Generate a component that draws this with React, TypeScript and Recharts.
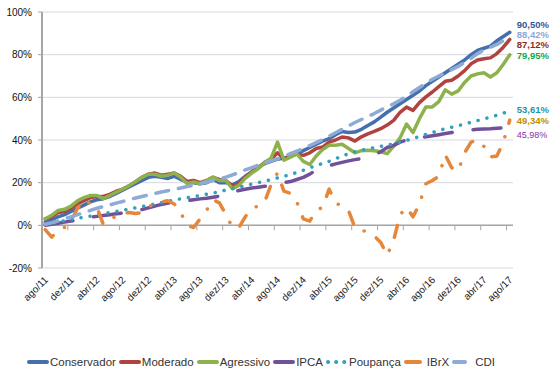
import { LineChart, Line, XAxis, YAxis, CartesianGrid, ReferenceLine } from "recharts";

const MESES = [
  "ago/11", "set/11", "out/11", "nov/11", "dez/11",
  "jan/12", "fev/12", "mar/12", "abr/12", "mai/12", "jun/12", "jul/12", "ago/12", "set/12", "out/12", "nov/12", "dez/12",
  "jan/13", "fev/13", "mar/13", "abr/13", "mai/13", "jun/13", "jul/13", "ago/13", "set/13", "out/13", "nov/13", "dez/13",
  "jan/14", "fev/14", "mar/14", "abr/14", "mai/14", "jun/14", "jul/14", "ago/14", "set/14", "out/14", "nov/14", "dez/14",
  "jan/15", "fev/15", "mar/15", "abr/15", "mai/15", "jun/15", "jul/15", "ago/15", "set/15", "out/15", "nov/15", "dez/15",
  "jan/16", "fev/16", "mar/16", "abr/16", "mai/16", "jun/16", "jul/16", "ago/16", "set/16", "out/16", "nov/16", "dez/16",
  "jan/17", "fev/17", "mar/17", "abr/17", "mai/17", "jun/17", "jul/17", "ago/17",
];

// rentabilidade acumulada (%) desde ago/11
const CONSERVADOR = [
  1.5, 2.5, 4, 5, 6.5, 8, 9.5, 11, 12, 12.5,
  13.5, 15, 16.5, 18, 19.5, 21, 22.5, 23, 22.5, 22,
  23, 21.5, 20.5, 20, 19.5, 20, 21.5, 20, 20, 19,
  20.5, 23, 25, 27, 29, 30, 31, 31.5, 32.5, 33.5,
  35, 36.5, 38, 39.5, 40.6, 42.5, 44, 43.5, 43.7, 45,
  46.8, 48.5, 50.7, 53, 55, 57, 59, 61, 63, 65.5,
  67.5, 69.5, 71.5, 73.5, 75.5, 77.5, 80, 82, 83, 84,
  86.5, 88.5, 90.5,
];
const MODERADO = [
  3, 4, 6, 6.5, 8, 10, 11.5, 13, 13.5, 13.5,
  14.5, 16, 17, 18.5, 20.5, 22.5, 24, 24.5, 23.5, 24,
  24.5, 23, 20.5, 21, 20, 21, 22.5, 21.5, 21, 18.5,
  19.5, 22.5, 25, 27, 29.5, 31, 34, 31, 32.5, 33.5,
  32.8, 34, 36, 36.7, 39, 40, 41.4, 41, 39.5, 41.5,
  42.9, 44, 45.3, 47, 49.2, 53, 55.4, 53.9, 57.5, 60.2,
  62.5, 65, 67.5, 68, 70, 72.5, 75.7, 77.5, 78.1, 78.5,
  80.5, 83.5, 87.12,
];
const AGRESSIVO = [
  3.1, 4.7, 7, 7.5, 9, 11.5, 13, 14, 14, 12.5,
  14, 15.5, 17, 18.5, 20.5, 22.5, 24, 24, 23, 23.5,
  24.5, 22.5, 19.5, 20.3, 19.5, 21, 22.6, 21, 21, 17.2,
  18.7, 22, 24.5, 26.5, 29.5, 31.5, 39, 30.5, 32, 33.5,
  30, 28.5, 32.5, 35.5, 37.5, 37.5, 38, 36, 34, 35,
  35.2, 35, 34.5, 33.6, 37, 41, 47.5, 43.5, 50, 55.5,
  55.5, 58, 63.5, 61.5, 63, 67, 70, 71, 71.5, 69.5,
  71.5, 75.5, 79.95,
];
const IPCA = [
  0, 0.5, 1, 1.5, 2, 2.6, 3.2, 3.8, 4.2, 4.6,
  5, 5.4, 5.8, 6.2, 6.8, 7.4, 8.2, 9, 9.8, 10.4,
  10.9, 11.3, 11.6, 12, 12.4, 12.7, 13.2, 13.7, 14.4, 15.5,
  16.3, 16.9, 17.5, 17.9, 18.3, 18.7, 19.2, 20, 20.5, 21.5,
  22.5, 24, 26, 27, 28, 28.8, 29.5, 30.2, 30.8, 31.3,
  32, 33, 34.5, 36.5, 37.5, 39, 40, 40.5, 41, 41.5,
  42, 42.5, 43, 43.5, 44, 44.5, 44.8, 45, 45.2, 45.3,
  45.5, 45.7, 45.98,
];
const POUPANCA = [
  0.5, 1, 1.5, 2.2, 2.8, 3.3, 3.8, 4.3, 4.8, 5.4,
  6, 6.5, 7, 7.6, 8.2, 8.8, 9.4, 10, 10.6, 11.2,
  11.9, 12.4, 12.9, 13.5, 14, 14.6, 15.1, 15.8, 16.5, 17.2,
  17.8, 18.6, 19.3, 20, 20.7, 21.4, 22.2, 23, 23.8, 24.8,
  25.8, 27, 28, 29, 30, 31.2, 32.4, 33.6, 34.5, 35.2,
  35.8, 36.4, 37, 37.6, 38.2, 39, 39.8, 40.7, 41.6, 42.6,
  43.5, 44.4, 45.3, 46, 46.7, 47.5, 48.3, 49.1, 49.9, 50.7,
  51.6, 52.6, 53.61,
];
const IBRX = [
  -2, -5.5, -2.5, -1, 2, 8, 12, 10, 8.5, 0.5,
  2.5, 4.5, 5.5, 6, 5.5, 6, 8.5, 10.5, 11, 11.5,
  10, 6, 0, -1, 3, 7, 12, 10.5, 5, -0.8,
  -1.2, 4, 8, 9, 11, 19, 24.5, 16, 15, 11,
  3, 2, 7, 8.5, 17, 10.5, 9, 7, -1, -2,
  -3.5, -5, -8, -14, -7, 5, 8.5, 4, 10, 19.5,
  21, 23, 33, 27, 25.5, 34, 39, 40, 37, 32,
  32.5, 39, 49.34,
];
const CDI = [
  0.5, 1.2, 2, 3, 4, 5, 6, 7, 8, 8.8,
  9.6, 10.4, 11.2, 12, 12.8, 13.5, 14.2, 14.9, 15.6, 16.2,
  16.8, 17.5, 18.2, 18.8, 19.5, 20.2, 21, 21.8, 22.6, 23.6,
  24.8, 26, 27, 28.2, 29.2, 30.2, 31.2, 32.4, 33.6, 34.8,
  36, 37.4, 38.8, 40.2, 41.8, 43.4, 45, 46.6, 48.2, 49.6,
  51, 52.4, 54, 55.5, 57, 58.6, 60.6, 62.6, 64.6, 66.6,
  68.5, 70, 71.5, 73, 74.5, 76.3, 78.3, 80.5, 82.2, 83.5,
  84.8, 86.6, 88.42,
];

const Y_TICKS = [-20, 0, 20, 40, 60, 80, 100];
const X_TICKS = [0, 4, 8, 12, 16, 20, 24, 28, 32, 36, 40, 44, 48, 52, 56, 60, 64, 68, 72];

const data = MESES.map((mes, i) => ({
  x: i + 0.5,
  mes,
  conservador: CONSERVADOR[i],
  moderado: MODERADO[i],
  agressivo: AGRESSIVO[i],
  ipca: IPCA[i],
  poupanca: POUPANCA[i],
  ibrx: IBRX[i],
  cdi: CDI[i],
}));

const FONT = "'Liberation Sans', Arial, sans-serif";
const W = 553;
const H = 381;
const MARGIN = { top: 12, right: 40, bottom: 63, left: 0 };
const Y_W = 42;
const X_H = 50;
const PLOT_LEFT = MARGIN.left + Y_W;
const PLOT_W = W - MARGIN.right - PLOT_LEFT;
const PLOT_BOTTOM = H - MARGIN.bottom - X_H;
const PLOT_H = PLOT_BOTTOM - MARGIN.top;
const ZERO_Y = MARGIN.top + (PLOT_H * 100) / 120;
const HALF = PLOT_W / MESES.length / 2;
const LAST = MESES.length - 1;

const SERIES = [
  { key: "conservador", name: "Conservador", color: "#4470AD", dash: undefined, end: CONSERVADOR, labelColor: "#2F5A96", dy: -8, bold: true },
  { key: "moderado", name: "Moderado", color: "#B0433F", dash: undefined, end: MODERADO, labelColor: "#8E2B28", dy: 5, bold: true },
  { key: "agressivo", name: "Agressivo", color: "#8DB24D", dash: undefined, end: AGRESSIVO, labelColor: "#12A650", dy: 1, bold: true },
  { key: "ipca", name: "IPCA", color: "#71519A", dash: "28 21", end: IPCA, labelColor: "#8B2FA8", dy: 8, bold: false },
  { key: "poupanca", name: "Poupança", color: "#31A1BC", dash: "0.1 9", end: POUPANCA, labelColor: "#1E96A8", dy: -1, bold: true },
  { key: "ibrx", name: "IBrX", color: "#E5873A", dash: "12 14 0.1 14", end: IBRX, labelColor: "#BF8F00", dy: 1, bold: true },
  { key: "cdi", name: "CDI", color: "#8EABD6", dash: "13 10", end: CDI, labelColor: "#8EA6DA", dy: -2, bold: true },
];

const fmt = (v: number) => v.toFixed(2).replace(".", ",") + "%";

const endLabel = (s: (typeof SERIES)[number]) => (props: any) => {
  if (props.index !== LAST) return null;
  return (
    <text
      x={props.x + 7}
      y={props.y + s.dy}
      dy="0.35em"
      fill={s.labelColor}
      fontSize={s.bold ? 9.5 : 9}
      fontWeight={s.bold ? 700 : 400}
      fontFamily={FONT}
    >
      {fmt(s.end[LAST])}
    </text>
  );
};

const XTick = ({ x, payload }: any) => {
  const cx = x + HALF + 1;
  const ty = PLOT_BOTTOM + 10;
  return (
    <g>
      <line x1={x} x2={x} y1={ZERO_Y} y2={ZERO_Y + 5} stroke="#A6A6A6" strokeWidth={1} />
      <text
        x={cx}
        y={ty}
        dy="0.35em"
        textAnchor="end"
        fontSize={10}
        fill="#222"
        fontFamily={FONT}
        transform={`rotate(-45 ${cx} ${ty})`}
      >
        {MESES[payload.value]}
      </text>
    </g>
  );
};

const LegendIcon = ({ s }: { s: (typeof SERIES)[number] }) => (
  <svg width={22} height={10} style={{ display: "block" }}>
    <line
      x1={2}
      x2={20}
      y1={5}
      y2={5}
      stroke={s.color}
      strokeWidth={4}
      strokeLinecap="round"
      strokeDasharray={s.key === "poupanca" ? "0.1 8" : s.key === "cdi" ? "11 7" : s.key === "ibrx" ? "14 30" : undefined}
    />
  </svg>
);

export default function App() {
  return (
    <div style={{ position: "absolute", left: 0, top: 0, width: W, height: H, background: "#fff" }}>
      <LineChart width={W} height={H} data={data} margin={MARGIN}>
        <CartesianGrid vertical={false} stroke="#D5D8E0" strokeWidth={1} />
        <XAxis
          dataKey="x"
          type="number"
          domain={[0, MESES.length]}
          ticks={X_TICKS}
          interval={0}
          height={X_H}
          axisLine={false}
          tickLine={false}
          tick={<XTick />}
        />
        <YAxis
          type="number"
          domain={[-20, 100]}
          ticks={Y_TICKS}
          width={Y_W}
          tickFormatter={(v: number) => `${v}%`}
          tick={{ fontSize: 10, fill: "#111", fontFamily: FONT }}
          tickSize={4}
          tickMargin={6}
          axisLine={{ stroke: "#A6A6A6", strokeWidth: 2 }}
          tickLine={{ stroke: "#A6A6A6" }}
        />
        <ReferenceLine y={0} stroke="#A6A6A6" strokeWidth={1.5} />
        {SERIES.map((s) => (
          <Line
            key={s.key}
            dataKey={s.key}
            name={s.name}
            type="linear"
            stroke={s.color}
            strokeWidth={3.5}
            strokeDasharray={s.dash}
            strokeLinecap="round"
            strokeLinejoin="round"
            dot={false}
            activeDot={false}
            isAnimationActive={false}
            label={endLabel(s)}
          />
        ))}
      </LineChart>
      <div
        style={{
          position: "absolute",
          left: 0,
          width: 522,
          top: 356,
          display: "flex",
          justifyContent: "center",
          alignItems: "center",
          gap: 3,
          fontFamily: FONT,
          fontSize: 11.5,
          color: "#333",
        }}
      >
        {SERIES.map((s) => (
          <div key={s.key} style={{ display: "flex", alignItems: "center", gap: 1 }}>
            <LegendIcon s={s} />
            <span>{s.name}</span>
          </div>
        ))}
      </div>
    </div>
  );
}
